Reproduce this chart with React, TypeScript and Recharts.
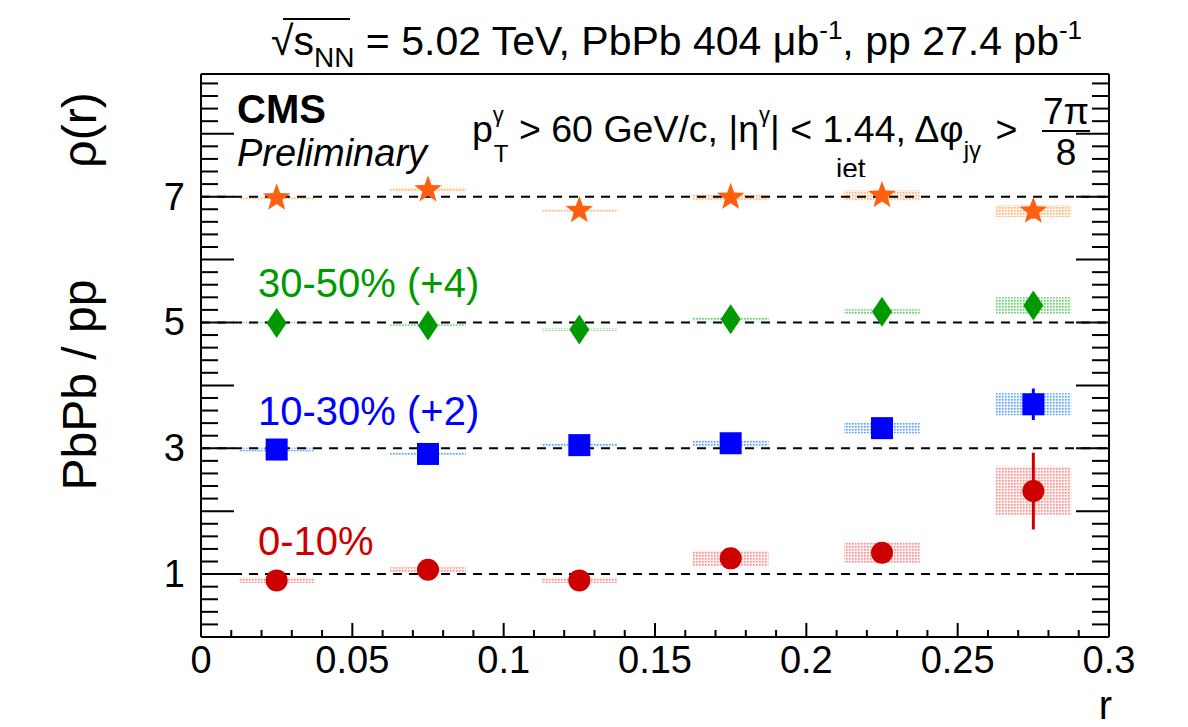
import React from "react";
import {
  ComposedChart,
  ErrorBar,
  ReferenceArea,
  ReferenceLine,
  Scatter,
  XAxis,
  YAxis,
} from "recharts";

// bin centres in r and the half width of the systematic boxes
const R_BINS = [0.025, 0.075, 0.125, 0.175, 0.225, 0.275];
const BIN_HALF_WIDTH = 0.0125;

// 0-10%
const RATIO_0_10 = [0.9, 1.07, 0.9, 1.25, 1.34, 2.32];
const STAT_0_10 = [0.05, 0.05, 0.06, 0.08, 0.1, 0.61];
const SYS_0_10 = [0.04, 0.04, 0.04, 0.12, 0.165, 0.385];

// 10-30% (+2)
const RATIO_10_30 = [2.98, 2.91, 3.05, 3.08, 3.32, 3.7];
const STAT_10_30 = [0.04, 0.04, 0.05, 0.06, 0.08, 0.25];
const SYS_10_30 = [0.03, 0.02, 0.03, 0.05, 0.085, 0.175];

// 30-50% (+4)
const RATIO_30_50 = [4.99, 4.95, 4.89, 5.05, 5.17, 5.27];
const STAT_30_50 = [0.04, 0.04, 0.05, 0.06, 0.07, 0.1];
const SYS_30_50 = [0.02, 0.02, 0.02, 0.03, 0.04, 0.13];

// 50-100% (+6)
const RATIO_50_100 = [6.98, 7.11, 6.78, 6.99, 7.02, 6.77];
const STAT_50_100 = [0.04, 0.05, 0.06, 0.07, 0.08, 0.12];
const SYS_50_100 = [0.02, 0.03, 0.02, 0.05, 0.08, 0.095];

const X_MAJOR_TICKS = [0, 0.05, 0.1, 0.15, 0.2, 0.25, 0.3];
const X_TICK_LABELS = ["0", "0.05", "0.1", "0.15", "0.2", "0.25", "0.3"];
const Y_LABELED_TICKS = [1, 3, 5, 7];
const REFERENCE_LEVELS = [1, 3, 5, 7];

const X_DOMAIN: [number, number] = [0, 0.3];
const Y_DOMAIN: [number, number] = [0, 8.95];

const FONT = "'Liberation Sans', Arial, Helvetica, sans-serif";

const xMinorTicks = Array.from({ length: 31 }, (_, i) => Number((i * 0.01).toFixed(2)));
const yMinorTicks = Array.from({ length: 45 }, (_, i) => Number((i * 0.2).toFixed(1)));

const isMultiple = (v: number, step: number) => Math.abs(v / step - Math.round(v / step)) < 1e-6;

const SERIES = [
  { id: "red", values: RATIO_0_10, stat: STAT_0_10, sys: SYS_0_10, color: "#cc0000", shape: "circle" },
  { id: "blue", values: RATIO_10_30, stat: STAT_10_30, sys: SYS_10_30, color: "#0000ff", shape: "square" },
  { id: "green", values: RATIO_30_50, stat: STAT_30_50, sys: SYS_30_50, color: "#009a00", shape: "diamond" },
  { id: "orange", values: RATIO_50_100, stat: STAT_50_100, sys: SYS_50_100, color: "#ff6010", shape: "star" },
];

const SYS_PATTERNS: Record<string, { bg: string; dot: string }> = {
  red: { bg: "#fff0f0", dot: "#ff8c8c" },
  blue: { bg: "#eef5ff", dot: "#5aa0ff" },
  green: { bg: "#eefaee", dot: "#66c866" },
  orange: { bg: "#fff4ea", dot: "#ffb478" },
};

function starPoints(cx: number, cy: number, outer: number, inner: number) {
  const pts: string[] = [];
  for (let k = 0; k < 10; k++) {
    const rad = k % 2 === 0 ? outer : inner;
    const a = (-90 + k * 36) * (Math.PI / 180);
    pts.push(`${cx + rad * Math.cos(a)},${cy + rad * Math.sin(a)}`);
  }
  return pts.join(" ");
}

const makeMarker = (shape: string, color: string) => (props: any) => {
  const { cx, cy } = props;
  if (cx == null || cy == null) return <g />;
  if (shape === "circle") return <circle cx={cx} cy={cy} r={11} fill={color} />;
  if (shape === "square") return <rect x={cx - 11} y={cy - 11} width={22} height={22} fill={color} />;
  if (shape === "diamond")
    return <polygon points={`${cx},${cy - 15} ${cx + 10},${cy} ${cx},${cy + 15} ${cx - 10},${cy}`} fill={color} />;
  return <polygon points={starPoints(cx, cy, 14.5, 6)} fill={color} />;
};

const BottomTick = (props: any) => {
  const { x, y, payload } = props;
  const idx = X_MAJOR_TICKS.findIndex((t) => Math.abs(t - payload.value) < 1e-9);
  const major = idx >= 0;
  return (
    <g>
      <line x1={x} x2={x} y1={y} y2={y - (major ? 14 : 7)} stroke="#000" strokeWidth={2} />
      {major && (
        <text x={x} y={y + 36} textAnchor="middle" fontSize={38} fontFamily={FONT} fill="#000">
          {X_TICK_LABELS[idx]}
        </text>
      )}
    </g>
  );
};

const TopTick = (props: any) => {
  const { x, y, payload } = props;
  const major = isMultiple(payload.value, 0.05);
  return <line x1={x} x2={x} y1={y} y2={y + (major ? 22 : 11)} stroke="#000" strokeWidth={2} />;
};

const LeftTick = (props: any) => {
  const { x, y, payload } = props;
  const major = isMultiple(payload.value, 1);
  const labelled = Y_LABELED_TICKS.some((t) => Math.abs(t - payload.value) < 1e-9);
  return (
    <g>
      <line x1={x} x2={x + (major ? 33 : 17)} y1={y} y2={y} stroke="#000" strokeWidth={2} />
      {labelled && (
        <text x={x - 16} y={y + 13} textAnchor="end" fontSize={38} fontFamily={FONT} fill="#000">
          {payload.value}
        </text>
      )}
    </g>
  );
};

const RightTick = (props: any) => {
  const { x, y, payload } = props;
  const major = isMultiple(payload.value, 1);
  return <line x1={x} x2={x - (major ? 33 : 17)} y1={y} y2={y} stroke="#000" strokeWidth={2} />;
};

export default function App() {
  const seriesData = SERIES.map((s) => ({
    ...s,
    data: R_BINS.map((r, i) => ({ r, v: s.values[i], err: s.stat[i] })),
  }));

  return (
    <div style={{ position: "absolute", left: 0, top: 0, width: 1188, height: 727, background: "#fff" }}>
      <svg width={0} height={0} style={{ position: "absolute" }}>
        <defs>
          {Object.entries(SYS_PATTERNS).map(([id, p]) => (
            <pattern key={id} id={`sys-${id}`} width={3} height={3} patternUnits="userSpaceOnUse">
              <rect width={3} height={3} fill={p.bg} />
              <rect width={1.6} height={1.6} fill={p.dot} />
            </pattern>
          ))}
          <clipPath id="jet-clip">
            <rect x={820} y={140} width={80} height={37} />
          </clipPath>
        </defs>
      </svg>

      <ComposedChart
        width={1188}
        height={727}
        margin={{ top: 64, right: 69, bottom: 30, left: 141 }}
        style={{ position: "absolute", left: 0, top: 0 }}
      >
        <XAxis
          xAxisId="bottom"
          dataKey="r"
          type="number"
          domain={X_DOMAIN}
          ticks={xMinorTicks}
          interval={0}
          height={60}
          tickSize={0}
          tickMargin={0}
          tickLine={false}
          tick={<BottomTick />}
          axisLine={{ stroke: "#000", strokeWidth: 2 }}
          allowDataOverflow
        />
        <XAxis
          xAxisId="top"
          orientation="top"
          type="number"
          domain={X_DOMAIN}
          ticks={xMinorTicks}
          interval={0}
          height={10}
          tickSize={0}
          tickMargin={0}
          tickLine={false}
          tick={<TopTick />}
          axisLine={{ stroke: "#000", strokeWidth: 2 }}
          allowDataOverflow
        />
        <YAxis
          yAxisId="left"
          dataKey="v"
          type="number"
          domain={Y_DOMAIN}
          ticks={yMinorTicks}
          interval={0}
          width={60}
          tickSize={0}
          tickMargin={0}
          tickLine={false}
          tick={<LeftTick />}
          axisLine={{ stroke: "#000", strokeWidth: 2 }}
          allowDataOverflow
        />
        <YAxis
          yAxisId="right"
          orientation="right"
          type="number"
          domain={Y_DOMAIN}
          ticks={yMinorTicks}
          interval={0}
          width={10}
          tickSize={0}
          tickMargin={0}
          tickLine={false}
          tick={<RightTick />}
          axisLine={{ stroke: "#000", strokeWidth: 2 }}
          allowDataOverflow
        />

        {seriesData.map((s) =>
          s.data.map((d, i) => (
            <ReferenceArea
              key={`${s.id}-sys-${i}`}
              xAxisId="bottom"
              yAxisId="left"
              x1={d.r - BIN_HALF_WIDTH}
              x2={d.r + BIN_HALF_WIDTH}
              y1={d.v - s.sys[i]}
              y2={d.v + s.sys[i]}
              fill={`url(#sys-${s.id})`}
              fillOpacity={1}
              stroke="none"
            />
          ))
        )}

        {REFERENCE_LEVELS.map((lvl) => (
          <ReferenceLine
            key={`lvl-${lvl}`}
            xAxisId="bottom"
            yAxisId="left"
            y={lvl}
            stroke="#000"
            strokeWidth={2}
            strokeDasharray="9 7"
          />
        ))}

        {seriesData.map((s) => (
          <Scatter
            key={s.id}
            xAxisId="bottom"
            yAxisId="left"
            data={s.data}
            dataKey="v"
            shape={makeMarker(s.shape, s.color)}
            isAnimationActive={false}
          >
            <ErrorBar dataKey="err" direction="y" width={0} stroke={s.color} strokeWidth={3} isAnimationActive={false} />
          </Scatter>
        ))}
      </ComposedChart>

      <svg
        width={1188}
        height={727}
        style={{ position: "absolute", left: 0, top: 0, pointerEvents: "none" }}
        fontFamily={FONT}
      >
        {/* title */}
        <text x={271} y={55} fontSize={41} fill="#000">
          <tspan>√</tspan>
          <tspan>s</tspan>
          <tspan dy={12} fontSize={28}>NN</tspan>
          <tspan dy={-12}> = 5.02 TeV, PbPb 404 μb</tspan>
          <tspan dy={-16} fontSize={26}>-1</tspan>
          <tspan dy={16}>, pp 27.4 pb</tspan>
          <tspan dy={-16} fontSize={26}>-1</tspan>
        </text>
        <line x1={283} x2={350} y1={19} y2={19} stroke="#000" strokeWidth={2} />

        {/* CMS label */}
        <text x={237} y={123} fontSize={40} fontWeight="bold" fill="#000">CMS</text>
        <text x={237} y={166} fontSize={38} fontStyle="italic" fill="#000">Preliminary</text>

        {/* selection */}
        <text x={472} y={142} fontSize={37.5} fill="#000">
          <tspan>p</tspan>
          <tspan dy={-20} fontSize={22}>γ</tspan>
          <tspan dx={-10} dy={40} fontSize={24}>T</tspan>
          <tspan dy={-20}> &gt; 60 GeV/c, |η</tspan>
          <tspan dy={-20} fontSize={22}>γ</tspan>
          <tspan dy={20}>| &lt; 1.44, Δφ</tspan>
          <tspan dy={16} fontSize={24}>jγ</tspan>
          <tspan dx={4} dy={-16}> &gt;</tspan>
        </text>
        <text x={1066} y={124} fontSize={37} textAnchor="middle" fill="#000">7π</text>
        <line x1={1042} x2={1090} y1={131} y2={131} stroke="#000" strokeWidth={2} />
        <text x={1066} y={165} fontSize={37} textAnchor="middle" fill="#000">8</text>
        <text x={836} y={178} fontSize={28} fill="#000" clipPath="url(#jet-clip)">jet</text>

        {/* centrality labels */}
        <text x={258} y={297} fontSize={40} fill="#009a00">30-50% (+4)</text>
        <text x={258} y={425} fontSize={40} fill="#0000ff">10-30% (+2)</text>
        <text x={258} y={555} fontSize={40} fill="#cc0000">0-10%</text>

        {/* axis titles */}
        <text transform="translate(96,130) rotate(-90)" fontSize={48} textAnchor="middle" fill="#000">ρ(r)</text>
        <text transform="translate(96,385) rotate(-90)" fontSize={48} textAnchor="middle" fill="#000">PbPb / pp</text>
        <text x={1112} y={719} fontSize={40} textAnchor="end" fill="#000">r</text>
      </svg>
    </div>
  );
}
